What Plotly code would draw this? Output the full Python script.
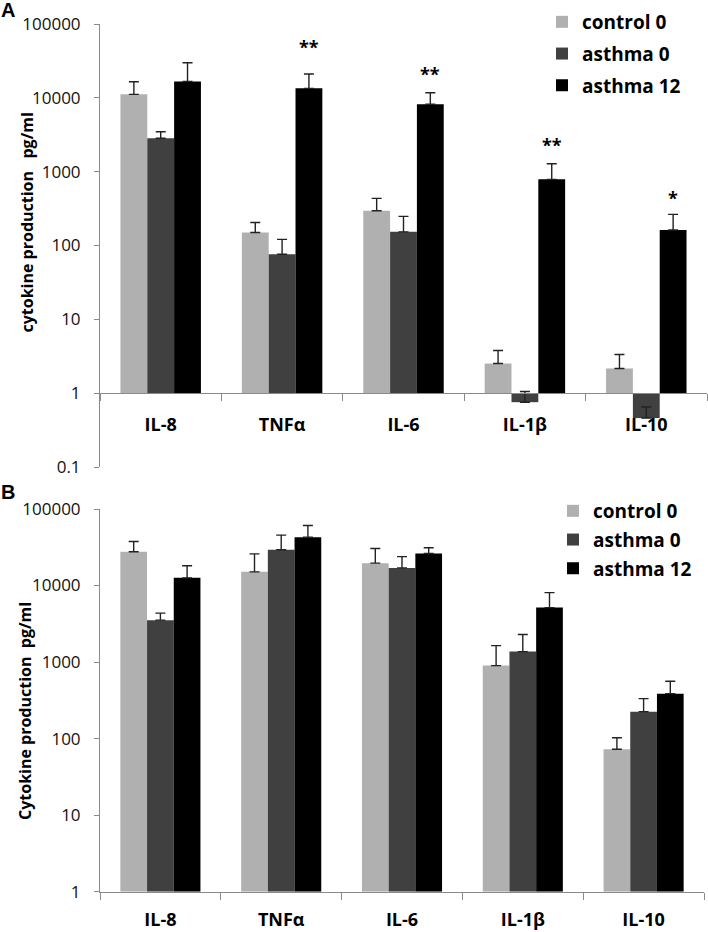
import math
import plotly.graph_objects as go

categories = ["IL-8", "TNFα", "IL-6", "IL-1β", "IL-10"]
series_names = ["control 0", "asthma 0", "asthma 12"]
series_colors = ["#b0b0b0", "#404040", "#000000"]

# Panel A values (pg/ml) and upper error bars
a_control0 = [11150, 150, 295, 2.52, 2.16]
a_control0_err = [5400, 55, 140, 1.27, 1.18]
a_asthma0 = [2830, 76, 153, 0.755, 0.46]
a_asthma0_err = [650, 45, 95, 0.30, 0.19]
a_asthma12 = [16700, 13450, 8170, 787, 162]
a_asthma12_err = [13200, 7550, 3560, 493, 102]
a_stars = ["", "**", "**", "**", "*"]
a_star_shift = [0, 27, 19, 19, 16]

# Panel B values (pg/ml) and upper error bars
b_control0 = [27600, 15100, 19600, 900, 72.6]
b_control0_err = [10000, 10800, 10900, 740, 30]
b_asthma0 = [3530, 29300, 17000, 1370, 225]
b_asthma0_err = [830, 16300, 6900, 920, 108]
b_asthma12 = [12600, 42900, 26200, 5150, 387]
b_asthma12_err = [5500, 18000, 4900, 2940, 175]

y_ticks_a = [0.1, 1, 10, 100, 1000, 10000, 100000]
y_ticks_b = [1, 10, 100, 1000, 10000, 100000]

W, H = 708, 932
FONT = "Open Sans"
BASE = 1
NB = "\u00a0"
ERR_COLOR = "#222222"

fig = go.Figure()

panelA = [(a_control0, a_control0_err), (a_asthma0, a_asthma0_err), (a_asthma12, a_asthma12_err)]
panelB = [(b_control0, b_control0_err), (b_asthma0, b_asthma0_err), (b_asthma12, b_asthma12_err)]

for i, (vals, errs) in enumerate(panelA):
    fig.add_trace(go.Bar(
        x=categories, y=[v - BASE for v in vals], base=BASE,
        name=series_names[i], marker=dict(color=series_colors[i], line=dict(width=0)),
        error_y=dict(type="data", array=errs, arrayminus=[0] * len(errs), symmetric=False,
                     color=ERR_COLOR, thickness=1.4, width=5),
        xaxis="x", yaxis="y", legend="legend", legendgroup=f"a{i}", hoverinfo="skip",
    ))

for i, (vals, errs) in enumerate(panelB):
    fig.add_trace(go.Bar(
        x=categories, y=[v - BASE for v in vals], base=BASE,
        name=series_names[i], marker=dict(color=series_colors[i], line=dict(width=0)),
        error_y=dict(type="data", array=errs, arrayminus=[0] * len(errs), symmetric=False,
                     color=ERR_COLOR, thickness=1.4, width=5),
        xaxis="x2", yaxis="y2", legend="legend2", legendgroup=f"b{i}", hoverinfo="skip",
    ))

annotations = []
bar_w = 121.5 * 0.663 / 3
for cat, s, sh, v, e in zip(categories, a_stars, a_star_shift, a_asthma12, a_asthma12_err):
    if s:
        annotations.append(dict(
            x=cat, y=math.log10(v + e), xref="x", yref="y", text=s, showarrow=False,
            xshift=bar_w, yshift=sh, xanchor="center", yanchor="middle",
            font=dict(family=FONT, size=18, color="#000", weight="bold"),
        ))

annotations += [
    dict(x=26.5 / W, y=1 - 223 / H, xref="paper", yref="paper",
         text=f"cytokine production{NB}{NB}{NB}pg/ml", xanchor="center", yanchor="middle",
         textangle=-90, showarrow=False, font=dict(family=FONT, size=16, color="#000", weight="bold")),
    dict(x=25 / W, y=1 - 711 / H, xref="paper", yref="paper",
         text=f"Cytokine production{NB}{NB}pg/ml", xanchor="center", yanchor="middle",
         textangle=-90, showarrow=False, font=dict(family=FONT, size=16, color="#000", weight="bold")),
    dict(x=8 / W, y=1 - 10 / H, xref="paper", yref="paper", text="A", showarrow=False,
         xanchor="center", yanchor="middle",
         font=dict(family="Liberation Sans", size=20, color="#000", weight="bold")),
    dict(x=8 / W, y=1 - 492 / H, xref="paper", yref="paper", text="B", showarrow=False,
         xanchor="center", yanchor="middle",
         font=dict(family="Liberation Sans", size=20, color="#000", weight="bold")),
]

axis_line = "#8a8a8a"
tickfont = dict(family=FONT, size=17, color="#111")
catfont = dict(family=FONT, size=18, color="#000", weight="bold")

fig.update_layout(
    width=W, height=H, margin=dict(l=0, r=0, t=0, b=0, autoexpand=False),
    paper_bgcolor="white", plot_bgcolor="white",
    barmode="group", bargap=0.337, bargroupgap=0,
    showlegend=True,
    annotations=annotations,
    xaxis=dict(domain=[100 / W, 707 / W], anchor="free", position=1 - 393 / H,
               showline=True, linecolor=axis_line, linewidth=1,
               ticks="outside", tickson="boundaries", ticklen=7, tickcolor=axis_line,
               tickfont=catfont, ticklabelstandoff=15, showgrid=False, zeroline=False,
               automargin=False),
    yaxis=dict(domain=[1 - 467 / H, 1 - 24 / H], type="log", range=[-1, 5],
               tickvals=y_ticks_a, ticktext=[f"{t:g}" for t in y_ticks_a],
               showline=True, linecolor=axis_line, linewidth=1,
               ticks="outside", ticklen=5, tickcolor=axis_line,
               tickfont=tickfont, ticklabelstandoff=10, showgrid=False, zeroline=False,
               automargin=False),
    xaxis2=dict(domain=[100 / W, 704 / W], anchor="y2",
                showline=True, linecolor=axis_line, linewidth=1,
                ticks="outside", tickson="boundaries", ticklen=7, tickcolor=axis_line,
                tickfont=catfont, ticklabelstandoff=12, showgrid=False, zeroline=False,
                automargin=False),
    yaxis2=dict(domain=[1 - 891.7 / H, 1 - 509 / H], type="log", range=[0, 5], anchor="x2",
                tickvals=y_ticks_b, ticktext=[f"{t:g}" for t in y_ticks_b],
                showline=True, linecolor=axis_line, linewidth=1,
                ticks="outside", ticklen=5, tickcolor=axis_line,
                tickfont=tickfont, ticklabelstandoff=10, showgrid=False, zeroline=False,
                automargin=False),
    legend=dict(x=542 / W, y=1 - 3 / H, xanchor="left", yanchor="top",
                font=dict(family=FONT, size=19, color="#000", weight="bold"),
                bgcolor="rgba(0,0,0,0)", tracegroupgap=4, traceorder="grouped", itemclick=False),
    legend2=dict(x=553 / W, y=1 - 492 / H, xanchor="left", yanchor="top",
                 font=dict(family=FONT, size=19, color="#000", weight="bold"),
                 bgcolor="rgba(0,0,0,0)", tracegroupgap=1, traceorder="grouped", itemclick=False),
)

fig.write_html("out.html", config={"displayModeBar": False},
               post_script="document.body.style.margin='0';document.body.style.overflow='hidden';")
